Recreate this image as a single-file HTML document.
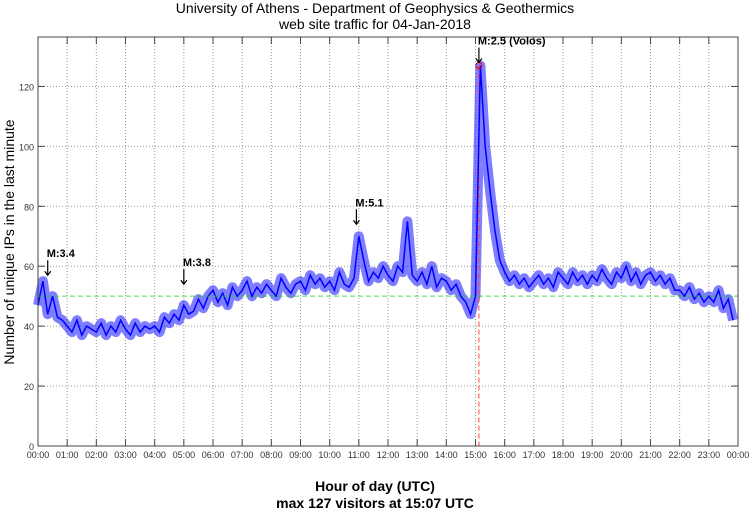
<!DOCTYPE html>
<html><head><meta charset="utf-8"><style>
body{margin:0;background:#fff}
svg{display:block;font-family:"Liberation Sans",sans-serif}
</style></head><body>
<svg id="chart" width="750" height="511">
<text x="375" y="13" text-anchor="middle" font-size="14">University of Athens - Department of Geophysics &amp; Geothermics</text>
<text x="375" y="29" text-anchor="middle" font-size="14">web site traffic for 04-Jan-2018</text>
<text transform="translate(14,242) rotate(-90)" text-anchor="middle" font-size="14">Number of unique IPs in the last minute</text>
<text x="375" y="491" text-anchor="middle" font-size="14" font-weight="bold">Hour of day (UTC)</text>
<text x="375" y="508" text-anchor="middle" font-size="14" font-weight="bold">max 127 visitors at 15:07 UTC</text>
<g id="grid"></g><g id="series"></g><g id="axes"></g><g id="notes"></g>
</svg>
<script>
const hours=["00:00","01:00","02:00","03:00","04:00","05:00","06:00","07:00","08:00","09:00","10:00","11:00","12:00","13:00","14:00","15:00","16:00","17:00","18:00","19:00","20:00","21:00","22:00","23:00","00:00"];
const yTicks=[0,20,40,60,80,100,120];
// visitors every 10 minutes
const visitors=[
47,55,44,50,43,42, 40,38,42,37,40,39, 38,41,37,40,38,42, 39,37,41,38,40,39,
40,38,43,41,44,42, 47,44,45,49,46,50, 52,48,51,47,53,50, 52,55,50,53,51,54,
52,50,56,53,51,54, 55,52,57,54,56,53, 55,52,58,54,53,56, 70,62,55,58,56,60,
57,55,60,58,75,57, 55,58,54,60,53,56, 55,52,54,50,48,44, 50,127,100,85,72,62,
58,55,57,54,56,53, 55,57,54,56,53,58, 56,54,58,55,57,54, 57,55,59,56,54,58,
56,60,55,58,54,57, 58,55,57,54,56,52, 52,50,53,49,51,48, 50,48,52,46,49,42];
const average=[50];
const peakMinute=[907];const peakValue=[127];
const quakeLabels=["M:3.4","M:3.8","M:5.1","M:2.5 (Volos)"];
const quakeMinutes=[20,300,655,907];
const quakeValues=[56,53,73,127];

const X0=38,X1=738,Y0=446,YMAX=136.5,Y1=37;
const x=m=>X0+(X1-X0)*m/1440;
const y=v=>Y0-(Y0-Y1)*v/YMAX;
const NS="http://www.w3.org/2000/svg";
function mk(t,p,a){const e=document.createElementNS(NS,t);for(const k in a)e.setAttribute(k,a[k]);p.appendChild(e);return e;}
const grid=document.getElementById('grid'),axes=document.getElementById('axes'),ser=document.getElementById('series'),notes=document.getElementById('notes');
hours.forEach((h,i)=>{const xx=x(i*60);
 if(i>0&&i<24){const g=mk('line',grid,{x1:xx,x2:xx,y1:Y1,y2:Y0,stroke:'#999','stroke-dasharray':'1,2','stroke-width':1});
 
 }
 mk('line',axes,{x1:xx,x2:xx,y1:Y0,y2:Y0-7,stroke:'#444'});
 mk('line',axes,{x1:xx,x2:xx,y1:Y1,y2:Y1+7,stroke:'#444'});
 const t=mk('text',axes,{x:xx,y:Y0+12,'text-anchor':'middle','font-size':9,fill:'#333'});t.textContent=h;
 
 
});
yTicks.forEach(v=>{const yy=y(v);
 if(v>0){const g=mk('line',grid,{x1:X0,x2:X1,y1:yy,y2:yy,stroke:'#999','stroke-dasharray':'1,2'});
 
 }
 mk('line',axes,{x1:X0,x2:X0+7,y1:yy,y2:yy,stroke:'#444'});
 mk('line',axes,{x1:X1,x2:X1-7,y1:yy,y2:yy,stroke:'#444'});
 const t=mk('text',axes,{x:X0-4,y:yy+4,'text-anchor':'end','font-size':9,fill:'#333'});t.textContent=v;
 
 
});
const fr=mk('rect',axes,{x:X0,y:Y1,width:X1-X0,height:Y0-Y1,fill:'none',stroke:'#444'});


const pts=visitors.map((v,i)=>x(i*10).toFixed(1)+','+y(v).toFixed(1)).join(' ');
const band=mk('polyline',ser,{points:pts,fill:'none',stroke:'rgba(20,20,255,0.55)','stroke-width':10,'stroke-linejoin':'round'});


const pv=mk('line',ser,{x1:x(peakMinute[0]),x2:x(peakMinute[0]),y1:y(peakValue[0]),y2:Y0,stroke:'#f44','stroke-dasharray':'5,3'});


const pl=mk('polyline',ser,{points:pts,fill:'none',stroke:'#00f','stroke-width':1.5});


const avg=mk('line',ser,{x1:X0,x2:X1,y1:y(average[0]),y2:y(average[0]),stroke:'#2c2','stroke-dasharray':'5,3','stroke-opacity':0.8});


const pc=mk('circle',ser,{cx:x(peakMinute[0]),cy:y(peakValue[0]),r:3,fill:'none',stroke:'#e00'});


quakeLabels.forEach((l,i)=>{const xx=x(quakeMinutes[i]),yy=y(quakeValues[i]);
 const ar=mk('path',notes,{d:`M${xx},${yy-18}V${yy-3}M${xx-3},${yy-7}L${xx},${yy-3}L${xx+3},${yy-7}`,stroke:'#000',fill:'none','stroke-width':1.2});
 
 
 const t=mk('text',notes,{x:xx-1,y:yy-21,'font-size':11,'font-weight':'bold'});t.textContent=l;
 
 
});
</script>
</body></html>
